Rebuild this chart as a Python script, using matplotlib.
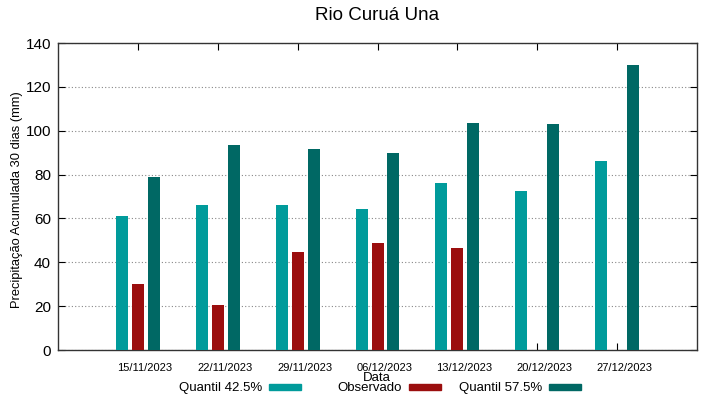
import numpy as np
import matplotlib
matplotlib.use('Agg')
import matplotlib.pyplot as plt
import matplotlib.transforms as mtrans
from matplotlib.patches import Rectangle

# data
datas = ['15/11/2023', '22/11/2023', '29/11/2023', '06/12/2023',
         '13/12/2023', '20/12/2023', '27/12/2023']
quantil_425 = [61, 66, 66, 64.5, 76, 72.5, 86]
observado = [30, 20.5, 44.5, 49, 46.5, 0, 0]
quantil_575 = [79, 93.5, 91.5, 90, 103.5, 103, 130]

cor_q425 = '#009b9b'
cor_obs = '#9b0e0e'
cor_q575 = '#006864'

plt.rcParams['font.family'] = ['Liberation Sans', 'DejaVu Sans']

fig = plt.figure(figsize=(7.19, 3.99), dpi=100)
ax = fig.add_axes([0.0807, 0.1228, 0.8887, 0.7692])

x = np.arange(len(datas))
larg = 0.15
passo = 0.2
ax.bar(x - passo, quantil_425, larg, color=cor_q425, zorder=3)
ax.bar(x, observado, larg, color=cor_obs, zorder=3)
ax.bar(x + passo, quantil_575, larg, color=cor_q575, zorder=3)

ax.set_xlim(-1, 7)
ax.set_ylim(0, 140)
ax.set_yticks(np.arange(0, 141, 20))
ax.yaxis.grid(True, linestyle=(0, (1, 2)), color='#888888', linewidth=0.8, zorder=0)
ax.tick_params(axis='y', direction='in', right=True, labelsize=11, length=5, pad=5)
ax.set_xticks(x)
ax.set_xticklabels(datas, fontsize=8)
ax.tick_params(axis='x', direction='in', top=True, length=5, pad=9)
# labels sit a little to the right of the tick, like gnuplot
for lab in ax.get_xticklabels():
    lab.set_transform(lab.get_transform() + mtrans.ScaledTranslation(7 / 100, 0, fig.dpi_scale_trans))
for sp in ax.spines.values():
    sp.set_color('#333333')
    sp.set_linewidth(1.0)

fig.text(17 / 719, 1 - 200 / 399, 'Precipitação Acumulada 30 dias (mm)',
         rotation=90, ha='center', va='center', fontsize=9.3)
fig.text(377 / 719, 1 - 378 / 399, 'Data', ha='center', va='center', fontsize=9.5)
fig.text(377 / 719, 1 - 15 / 399, 'Rio Curuá Una', ha='center', va='center', fontsize=13.5)

# legend row below the axis
legenda = [('Quantil 42.5%', cor_q425, 262), ('Observado', cor_obs, 402), ('Quantil 57.5%', cor_q575, 542)]
for nome, cor, xfim in legenda:
    fig.text(xfim / 719, 1 - 388 / 399, nome, ha='right', va='center', fontsize=9.5)
    fig.patches.append(Rectangle(((xfim + 7) / 719, 1 - 390 / 399), 32 / 719, 6 / 399,
                                 transform=fig.transFigure, color=cor, figure=fig))

fig.savefig('out.png', dpi=100)
